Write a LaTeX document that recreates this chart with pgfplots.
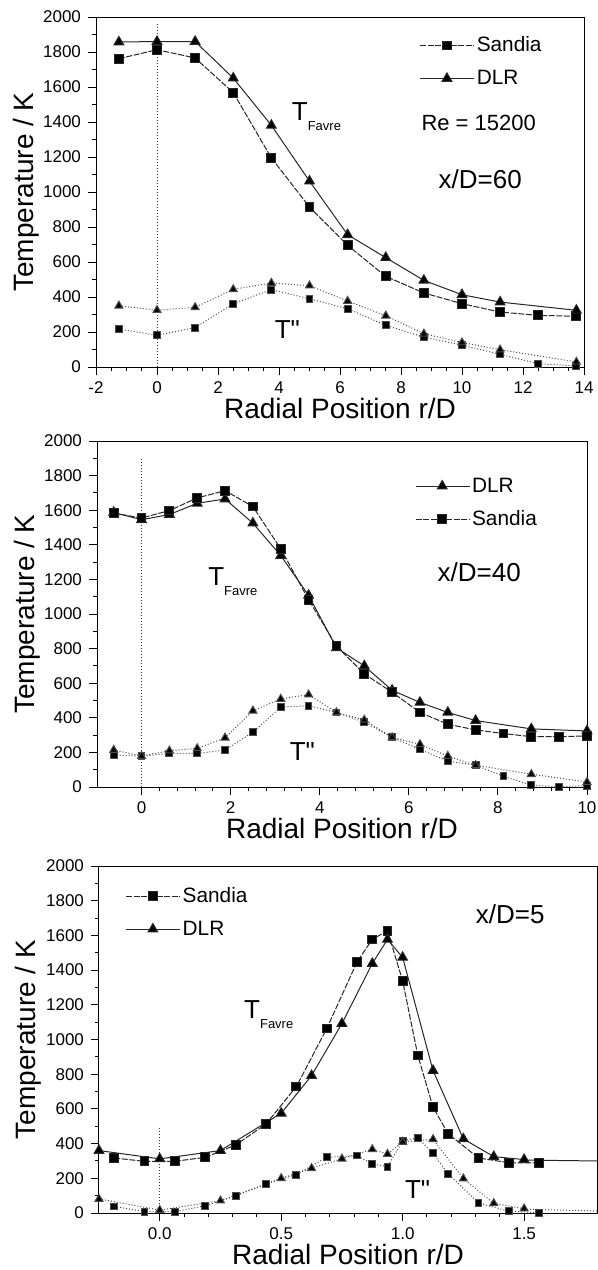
\documentclass[border=0pt]{standalone}
\usepackage{fontspec}
\setmainfont{Liberation Sans}
\newfontfamily\plainsans{Liberation Sans}
\usepackage{pgfplots}
\pgfplotsset{compat=1.18}

\pgfplotsset{
  tpanel/.style={
    scale only axis, anchor=south west,
    ymin=0, ymax=2000, ytick={0,200,...,2000},
    minor y tick num=1,
    tick align=outside, xtick pos=left, ytick pos=left,
    major tick length=4pt, minor tick length=2pt,
    tick style={black, line width=0.5pt},
    axis line style={line width=0.5pt},
    tick label style={font=\fontsize{8.5}{10}\selectfont},
    /pgf/number format/assume math mode=true,
    /pgf/number format/set thousands separator={},
    xlabel={Radial Position r/D}, ylabel={Temperature / K},
    label style={font=\fontsize{14}{16}\selectfont},
    xlabel style={yshift=5pt},
    ylabel style={at={(axis description cs:-0.143,0.5)}, anchor=center},
    legend cell align=left,
    legend style={draw=none, fill=none, inner sep=0pt, anchor=west,
      font=\fontsize{10.4}{12}\selectfont, row sep=4.5pt,
      nodes={inner sep=1pt, text height=8pt, text depth=2pt}},
    legend image code/.code={\draw[mark repeat=2,mark phase=2,##1] plot coordinates {(0cm,0cm)(0.47cm,0cm)(0.95cm,0cm)};},
  },
  sT/.style={black!85, line width=0.5pt, dash pattern=on 3pt off 0.8pt, mark=square*, mark size=2.2pt, mark options={solid, fill=black}},
  dT/.style={black!85, line width=0.5pt, mark=triangle*, mark size=2.8pt, mark options={solid, fill=black}},
  sV/.style={black!70, line width=0.5pt, densely dotted, mark=square*, mark size=1.7pt, mark options={solid, fill=black}, forget plot},
  dV/.style={black!70, line width=0.5pt, densely dotted, mark=triangle*, mark size=2.3pt, mark options={solid, fill=black}, forget plot},
  zline/.style={black!80, densely dotted, line width=0.5pt, no marks, forget plot},
}
\tikzset{lab/.style={anchor=base west, inner sep=0pt, font=\fontsize{13}{13}\selectfont}}
\newcommand{\Tfavre}{T\raisebox{-5pt}{\fontsize{6.5}{6.5}\selectfont Favre}}
\newcommand{\Tvar}{{\plainsans T"}}

\begin{document}
\begin{tikzpicture}
\path[use as bounding box] (0,0) rectangle (299pt,-635pt);

% x/D = 60
\begin{axis}[tpanel, at={(48pt,-183.5pt)}, width=244pt, height=175pt,
  xmin=-2, xmax=14, xtick={-2,0,...,14}, minor x tick num=3,
  legend style={at={(axis cs:8.6,1743)}}]
\addplot[zline] coordinates {(0,0)(0,1960)};
\addplot[sT] coordinates {(-1.25,1762)(0,1813)(1.25,1766)(2.5,1568)(3.75,1195)(5,914)(6.25,695)(7.5,518)(8.75,423)(10,362)(11.25,314)(12.5,295)(13.75,290)};
\addlegendentry{Sandia}
\addplot[dT] coordinates {(-1.25,1857)(0,1860)(1.25,1860)(2.5,1651)(3.75,1381)(5,1062)(6.25,756)(7.5,625)(8.75,495)(10,413)(11.25,371)(13.75,324)};
\addlegendentry{DLR}
\addplot[sV] coordinates {(-1.25,217)(0,181)(1.25,225)(2.5,362)(3.75,442)(5,390)(6.25,333)(7.5,238)(8.75,171)(10,125)(11.25,72)(12.5,19)(13.75,6)};
\addplot[dV] coordinates {(-1.25,350)(0,325)(1.25,341)(2.5,444)(3.75,480)(5,465)(6.25,377)(7.5,293)(8.75,190)(10,140)(11.25,99)(13.75,29)};
\node[lab] at (axis cs:4.41,1410) {\Tfavre};
\node[lab, font=\fontsize{11}{11}\selectfont] at (axis cs:8.66,1352) {Re = 15200};
\node[lab] at (axis cs:9.22,1019) {x/D=60};
\node[lab] at (axis cs:3.85,162) {\Tvar};
\end{axis}

% x/D = 40
\begin{axis}[tpanel, at={(48.5pt,-393.5pt)}, width=245pt, height=173pt,
  xmin=-1, xmax=10, xtick={0,2,...,10}, minor x tick num=4,
  legend style={at={(axis cs:6.13,1644)}}]
\addplot[zline] coordinates {(0,0)(0,1900)};
\addplot[dT] coordinates {(-0.625,1587)(0,1545)(0.625,1575)(1.25,1640)(1.875,1665)(2.5,1525)(3.125,1338)(3.75,1108)(4.375,805)(5,700)(5.625,559)(6.25,489)(6.875,431)(7.5,384)(8.75,336)(10,324)};
\addlegendentry{DLR}
\addplot[sT] coordinates {(-0.625,1583)(0,1555)(0.625,1598)(1.25,1671)(1.875,1713)(2.5,1621)(3.125,1377)(3.75,1083)(4.375,815)(5,654)(5.625,548)(6.25,431)(6.875,363)(7.5,330)(8.125,309)(8.75,291)(9.375,291)(10,295)};
\addlegendentry{Sandia}
\addplot[sV] coordinates {(-0.625,184)(0,179)(0.625,194)(1.25,194)(1.875,214)(2.5,317)(3.125,462)(3.75,470)(4.375,431)(5,375)(5.625,287)(6.25,217)(6.875,150)(7.5,126)(8.125,62)(8.75,10)(9.375,2)(10,8)};
\addplot[dV] coordinates {(-0.625,214)(0,179)(0.625,210)(1.25,223)(1.875,285)(2.5,441)(3.125,509)(3.75,534)(4.375,431)(5,388)(5.625,287)(6.25,247)(6.875,179)(7.5,126)(8.75,74)(10,29)};
\node[lab] at (axis cs:1.49,1167) {\Tfavre};
\node[lab] at (axis cs:6.64,1186) {x/D=40};
\node[lab] at (axis cs:3.32,154) {\Tvar};
\end{axis}

% x/D = 5
\begin{axis}[tpanel, at={(49.5pt,-606.5pt)}, width=249pt, height=173.5pt,
  xmin=-0.25, xmax=1.8, xtick={0,0.5,1,1.5}, minor x tick num=4,
  xticklabel style={/pgf/number format/.cd, fixed, fixed zerofill, precision=1},
  legend style={at={(axis cs:-0.142,1731)}}]
\addplot[zline] coordinates {(0,0)(0,500)};
\addplot[sT] coordinates {(-0.1875,317)(-0.0625,298)(0.0625,298)(0.1875,321)(0.3125,392)(0.4375,513)(0.5625,729)(0.6875,1063)(0.8125,1448)(0.875,1577)(0.9375,1627)(1.0,1338)(1.0625,908)(1.125,610)(1.1875,456)(1.3125,317)(1.4375,290)(1.5625,288)};
\addlegendentry{Sandia}
\addplot[dT] coordinates {(-0.25,360)(0,312)(0.25,360)(0.5,575)(0.625,792)(0.75,1092)(0.875,1438)(0.9375,1577)(1.0,1473)(1.125,821)(1.25,427)(1.375,325)(1.5,308)};
\addlegendentry{DLR}
\addplot[black!85, line width=0.5pt, no marks, forget plot] coordinates {(1.5,305)(1.8,300)};
\addplot[sV] coordinates {(-0.1875,38)(-0.0625,8)(0.0625,8)(0.1875,42)(0.3125,98)(0.4375,167)(0.5625,221)(0.6875,321)(0.8125,331)(0.875,283)(0.9375,267)(1.0,417)(1.0625,433)(1.125,344)(1.1875,225)(1.3125,58)(1.4375,10)(1.5625,2)};
\addplot[dV] coordinates {(-0.25,81)(0,17)(0.25,71)(0.5,200)(0.625,258)(0.75,313)(0.875,367)(0.9375,340)(1.0,410)(1.125,425)(1.25,198)(1.375,56)(1.5,25)};
\addplot[zline, black!70] coordinates {(1.5,22)(1.8,12)};
\node[lab] at (axis cs:0.346,1121) {\Tfavre};
\node[lab] at (axis cs:1.30,1669) {x/D=5};
\node[lab] at (axis cs:1.008,83) {\Tvar};
\end{axis}
\end{tikzpicture}
\end{document}
